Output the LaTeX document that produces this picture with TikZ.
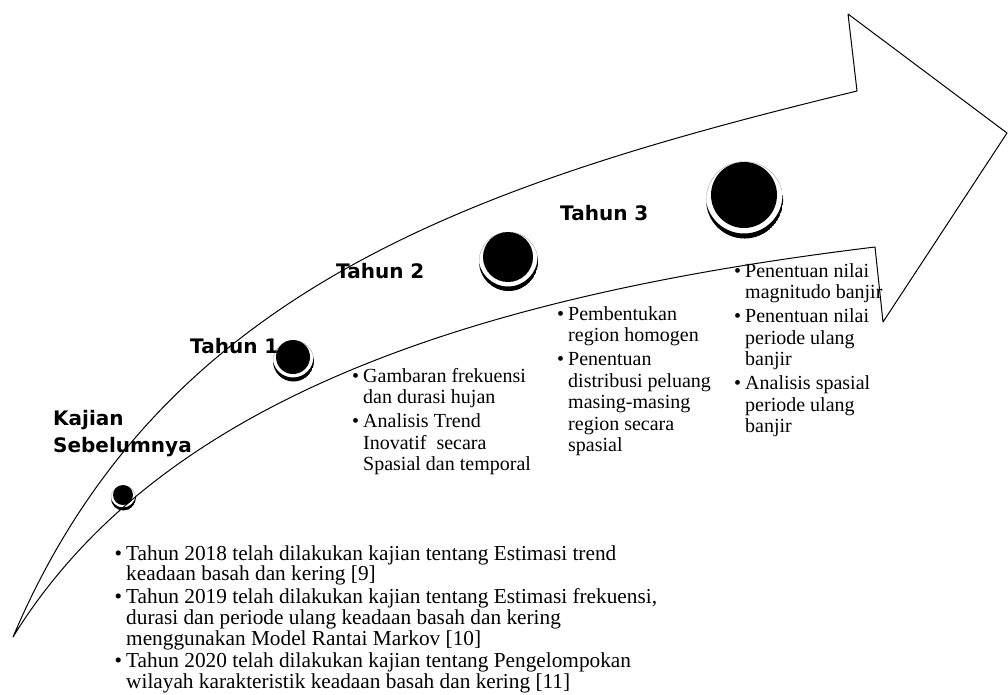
\documentclass[tikz,border=0pt]{standalone}
\usepackage{fontspec}
\setmainfont{Liberation Serif}
\newfontfamily\headfont{DejaVu Sans}

% bullet hanging left of the text column
\newcommand{\itm}{\llap{\textbullet\hspace{4pt}}}

% filled dot with its shadow crescent below (#6 = white gap)
\newcommand{\ringdot}[6]{%
  \node[dot, minimum size=2*#4] (#1) at (#2,#3) {};
  \begin{scope}
    \clip ([shift={(#5*0.12pt,-#5pt)}]#1.center) circle[radius=#4pt+#6pt];
    \fill[even odd rule] ([shift={(#5*0.12pt,-#5pt)}]#1.center) circle[radius=#4pt+#6pt]
      (#1.center) circle[radius=#4pt+#6pt];
  \end{scope}}

\begin{document}
\begin{tikzpicture}[x=1pt, y=-1pt,
    outline/.style={draw=black, line width=1pt, line join=round},
    dot/.style={circle, fill=black, inner sep=0pt},
    yearlabel/.style={font={\headfont\bfseries\fontsize{20}{27}\selectfont}, anchor=base west, inner sep=0pt},
    bullets/.style={font={\fontsize{20}{21.5}\selectfont}, anchor=base west, inner sep=0pt},
    history/.style={font={\fontsize{21.3}{20.5}\selectfont}, anchor=base west, inner sep=0pt}]
    \useasboundingbox (0,0) rectangle (1008,694);

    % the big curved arrow
    \draw[outline] (13,637) .. controls (160,290) and (470,185) .. (857,91)
        -- (848,14) -- (1007,133) -- (883,322) -- (875,247)
        .. controls (479,295) and (161,397) .. cycle;

    % stage labels
    \node[yearlabel] (kajian) at (53,425) {\begin{tabular}[t]{@{}l@{}}Kajian\\Sebelumnya\end{tabular}};
    \node[yearlabel] (tahun1) at (190,353) {Tahun 1};
    \node[yearlabel] (tahun2) at (336,278) {Tahun 2};
    \node[yearlabel] (tahun3) at (560,220) {Tahun 3};

    % dots along the arrow
    \ringdot{d0}{123}{495}{10}{3}{2.5}
    \ringdot{d1}{293}{357}{17}{4}{3.5}
    \ringdot{d2}{508}{257}{25}{4.5}{4.5}
    \ringdot{d3}{744}{195}{33}{5}{5.5}

    % activities of each year
    \node[bullets] (list1) at (363,382) {\begin{tabular}[t]{@{}l@{}}
        \itm Gambaran frekuensi\\ dan durasi hujan\\[2.5pt]
        \itm Analisis Trend\\ Inovatif~ secara\\ Spasial dan temporal\end{tabular}};
    \node[bullets] (list2) at (568,320) {\begin{tabular}[t]{@{}l@{}}
        \itm Pembentukan\\ region homogen\\[2.5pt]
        \itm Penentuan\\ distribusi peluang\\ masing-masing\\ region secara\\ spasial\end{tabular}};
    \node[bullets] (list3) at (745,277) {\begin{tabular}[t]{@{}l@{}}
        \itm Penentuan nilai\\ magnitudo banjir\\[2.5pt]
        \itm Penentuan nilai\\ periode ulang\\ banjir\\[2.5pt]
        \itm Analisis spasial\\ periode ulang\\ banjir\end{tabular}};

    % earlier studies
    \node[history] (list0) at (126,560) {\begin{tabular}[t]{@{}l@{}}
        \itm Tahun 2018 telah dilakukan kajian tentang Estimasi trend\\ keadaan basah dan kering [9]\\[1.5pt]
        \itm Tahun 2019 telah dilakukan kajian tentang Estimasi frekuensi,\\ durasi dan periode ulang keadaan basah dan kering\\ menggunakan Model Rantai Markov [10]\\[1.5pt]
        \itm Tahun 2020 telah dilakukan kajian tentang Pengelompokan\\ wilayah karakteristik keadaan basah dan kering [11]\end{tabular}};
\end{tikzpicture}
\end{document}
